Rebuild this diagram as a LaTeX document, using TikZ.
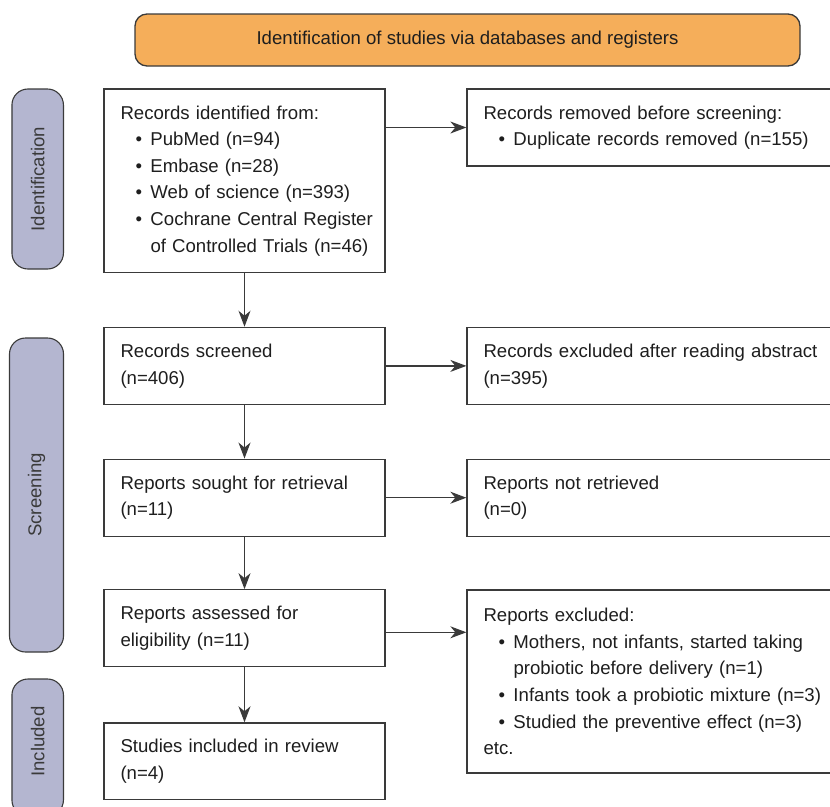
\documentclass[tikz,border=0pt]{standalone}
\usepackage{fontspec}
\setmainfont{Liberation Sans}
\usetikzlibrary{arrows.meta}
\definecolor{orangefill}{HTML}{F5AE5A}
\definecolor{sidefill}{HTML}{B4B6D0}
\definecolor{linegray}{HTML}{3A3A3A}
\definecolor{txt}{HTML}{1E1E1E}
\definecolor{sidetxt}{HTML}{3A3A3A}
\newcommand{\bitem}{\makebox[30pt][l]{\hspace{15.2pt}\textbullet}}
\newcommand{\bcont}{\hspace*{30pt}}
\begin{document}
\begin{tikzpicture}[x=1pt,y=-1pt,
  box/.style={draw=linegray, line width=1.3pt, fill=white, inner xsep=16.5pt, inner ysep=0pt,
    align=left, text=txt, font=\fontsize{18.6}{26.6}\selectfont, anchor=center},
  lbox/.style={box, minimum width=281pt, text width=248pt},
  rbox/.style={box, minimum width=380pt, text width=347pt},
  side/.style={draw=linegray, line width=1.1pt, fill=sidefill, rounded corners=16pt, rotate=90,
    text=sidetxt, font=\fontsize{18.6}{22}\selectfont, inner sep=0pt, anchor=center},
  titlebox/.style={draw=linegray, line width=1.3pt, fill=orangefill, rounded corners=12pt,
    text=txt, font=\fontsize{18.6}{22}\selectfont, inner sep=0pt, anchor=center},
  arr/.style={draw=linegray, line width=1.2pt, -{Stealth[length=16pt,width=12pt,inset=5pt]}},
]
\useasboundingbox (0,0) rectangle (830,806);

% title
\node[titlebox, minimum width=665pt, minimum height=52pt] (title) at (467.5,40)
  {Identification of studies via databases and registers};

% side labels
\node[side, minimum width=180pt, minimum height=51.5pt] (sid) at (37.7,179) {Identification};
\node[side, minimum width=314pt, minimum height=54pt] (sscr) at (36.5,495) {Screening};
\node[side, minimum width=137pt, minimum height=51.5pt] (sinc) at (37.7,747.5) {\hspace*{12pt}Included};

% left column
\node[lbox, minimum height=183.5pt] (ident) at (244.5,180.75)
  {Records identified from:\\
   \bitem PubMed (n=94)\\
   \bitem Embase (n=28)\\
   \bitem Web of science (n=393)\\
   \mbox{\bitem Cochrane Central Register}\\
   \bcont of Controlled Trials (n=46)};
\node[lbox, minimum height=77pt] (screen) at (244.5,365.9)
  {Records screened\\(n=406)};
\node[lbox, minimum height=77pt] (sought) at (244.5,497.7)
  {Reports sought for retrieval\\(n=11)};
\node[lbox, minimum height=77pt] (assess) at (244.5,628.3)
  {Reports assessed for\\eligibility (n=11)};
\node[lbox, minimum height=76.5pt] (incl) at (244.5,761.2)
  {Studies included in review\\(n=4)};

% right column
\node[rbox, minimum height=77pt] (removed) at (657,127.5)
  {Records removed before screening:\\
   \bitem Duplicate records removed (n=155)};
\node[rbox, minimum height=77pt] (excl) at (657,365.9)
  {Records excluded after reading abstract\\(n=395)};
\node[rbox, minimum height=77pt] (notret) at (657,497.7)
  {Reports not retrieved\\(n=0)};
\node[rbox, minimum height=183pt] (repexcl) at (657,681.5)
  {Reports excluded:\\
   \bitem Mothers, not infants, started taking\\
   \bcont probiotic before delivery (n=1)\\
   \bitem Infants took a probiotic mixture (n=3)\\
   \bitem Studied the preventive effect (n=3)\\
   etc.};

% connectors
\draw[arr] (ident.east |- removed.west) -- (removed.west);
\draw[arr] (screen.east) -- (excl.west);
\draw[arr] (sought.east) -- (notret.west);
\draw[arr] ([yshift=-4pt]assess.east) -- ([yshift=-4pt]assess.east -| repexcl.west);
\draw[arr] (ident.south) -- (screen.north);
\draw[arr] (screen.south) -- (sought.north);
\draw[arr] (sought.south) -- (assess.north);
\draw[arr] (assess.south) -- (incl.north);
\end{tikzpicture}
\end{document}
